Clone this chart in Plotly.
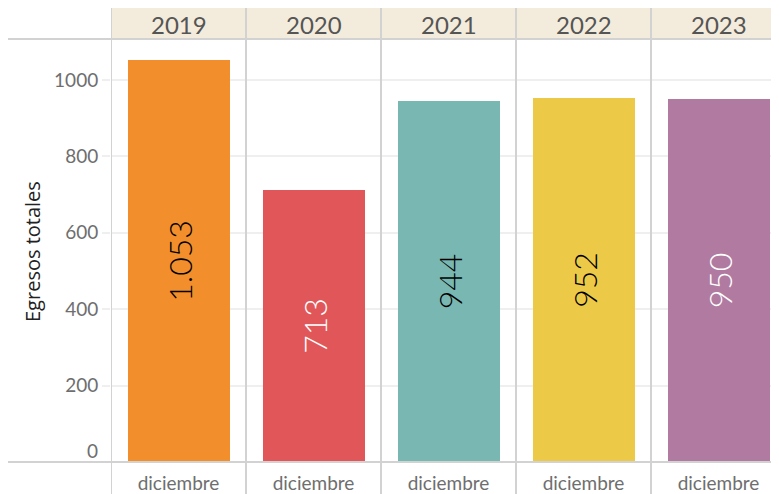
import plotly.graph_objects as go

years = ["2019", "2020", "2021", "2022", "2023"]
month_labels = ["diciembre", "diciembre", "diciembre", "diciembre", "diciembre"]
egresos = [1053, 713, 944, 952, 950]
value_labels = ["1.053", "713", "944", "952", "950"]
bar_colors = ["#F28E2B", "#E15759", "#79B7B2", "#EDC948", "#B07AA1"]
label_colors = ["#000000", "#FFFFFF", "#000000", "#000000", "#FFFFFF"]
y_ticks = [200, 400, 600, 800, 1000]

# figure is rendered at an 8px page offset; coordinates below are figure pixels
W, H = 779, 494
L, T = 103, 31
PLOT_BOTTOM = 454
B = H - PLOT_BOTTOM
plot_w = W - L
plot_h = PLOT_BOTTOM - T
col_px = 135.0
x_max = -0.5 + plot_w / col_px
y_max = 1107

FONT = "Lato"
pos = list(range(len(years)))

fig = go.Figure()
fig.add_trace(go.Bar(
    x=pos, y=egresos, width=102 / col_px,
    marker=dict(color=bar_colors, line=dict(width=0)),
    text=value_labels, textposition="inside", insidetextanchor="middle",
    textangle=-90, constraintext="none",
    textfont=dict(family=FONT, size=32, color=label_colors, weight=300),
    hoverinfo="skip", showlegend=False,
))

def px_x(px):
    return (px - L) / plot_w

def px_y(py):
    return (PLOT_BOTTOM - py) / plot_h

shapes = []
# header band
shapes.append(dict(type="rect", xref="paper", yref="paper",
                   x0=0, x1=1, y0=1, y1=px_y(0),
                   fillcolor="#F3ECDC", line=dict(width=0), layer="below"))
# vertical separators
for i in range(len(years) + 1):
    shapes.append(dict(type="line", xref="x", yref="paper",
                       x0=i - 0.5, x1=i - 0.5, y0=px_y(H), y1=px_y(0),
                       line=dict(color="#D2D2D2", width=2), layer="above"))
# top and bottom horizontal lines
for yy in (1, 0):
    shapes.append(dict(type="line", xref="paper", yref="paper",
                       x0=px_x(0), x1=1, y0=yy, y1=yy,
                       line=dict(color="#D2D2D2", width=2), layer="above"))

annotations = []
for i, yr in enumerate(years):
    annotations.append(dict(x=i, y=px_y(16), xref="x", yref="paper",
                            text=yr, showarrow=False,
                            font=dict(family=FONT, size=24, color="#555555"),
                            xanchor="center", yanchor="middle"))
annotations.append(dict(x=px_x(25), y=px_y(244), xref="paper", yref="paper",
                        text="Egresos totales", textangle=-90, showarrow=False,
                        font=dict(family="Open Sans", size=20, color="#222222"),
                        xanchor="center", yanchor="middle"))
annotations.append(dict(x=px_x(92), y=0, xref="paper", yref="y",
                        text="0", showarrow=False, yshift=12,
                        font=dict(family=FONT, size=19, color="#6E6E6E"),
                        xanchor="right", yanchor="middle"))

fig.update_layout(
    width=W, height=H,
    margin=dict(l=L, r=0, t=T, b=B, autoexpand=False),
    paper_bgcolor="white", plot_bgcolor="white",
    bargap=0,
    shapes=shapes, annotations=annotations,
    xaxis=dict(range=[-0.5, x_max], tickvals=pos, ticktext=month_labels,
               showgrid=False, zeroline=False, showline=False,
               ticks="outside", ticklen=4, tickcolor="rgba(0,0,0,0)",
               tickfont=dict(family=FONT, size=19, color="#6E6E6E"),
               fixedrange=True),
    yaxis=dict(range=[0, y_max], tickvals=y_ticks,
               showgrid=True, gridcolor="#EFEFEF", gridwidth=1.5,
               zeroline=False, showline=False,
               ticks="outside", ticklen=8, tickcolor="#EFEFEF", tickwidth=1.5,
               tickfont=dict(family=FONT, size=19, color="#6E6E6E"),
               fixedrange=True),
)

fig.write_html("out.html")
